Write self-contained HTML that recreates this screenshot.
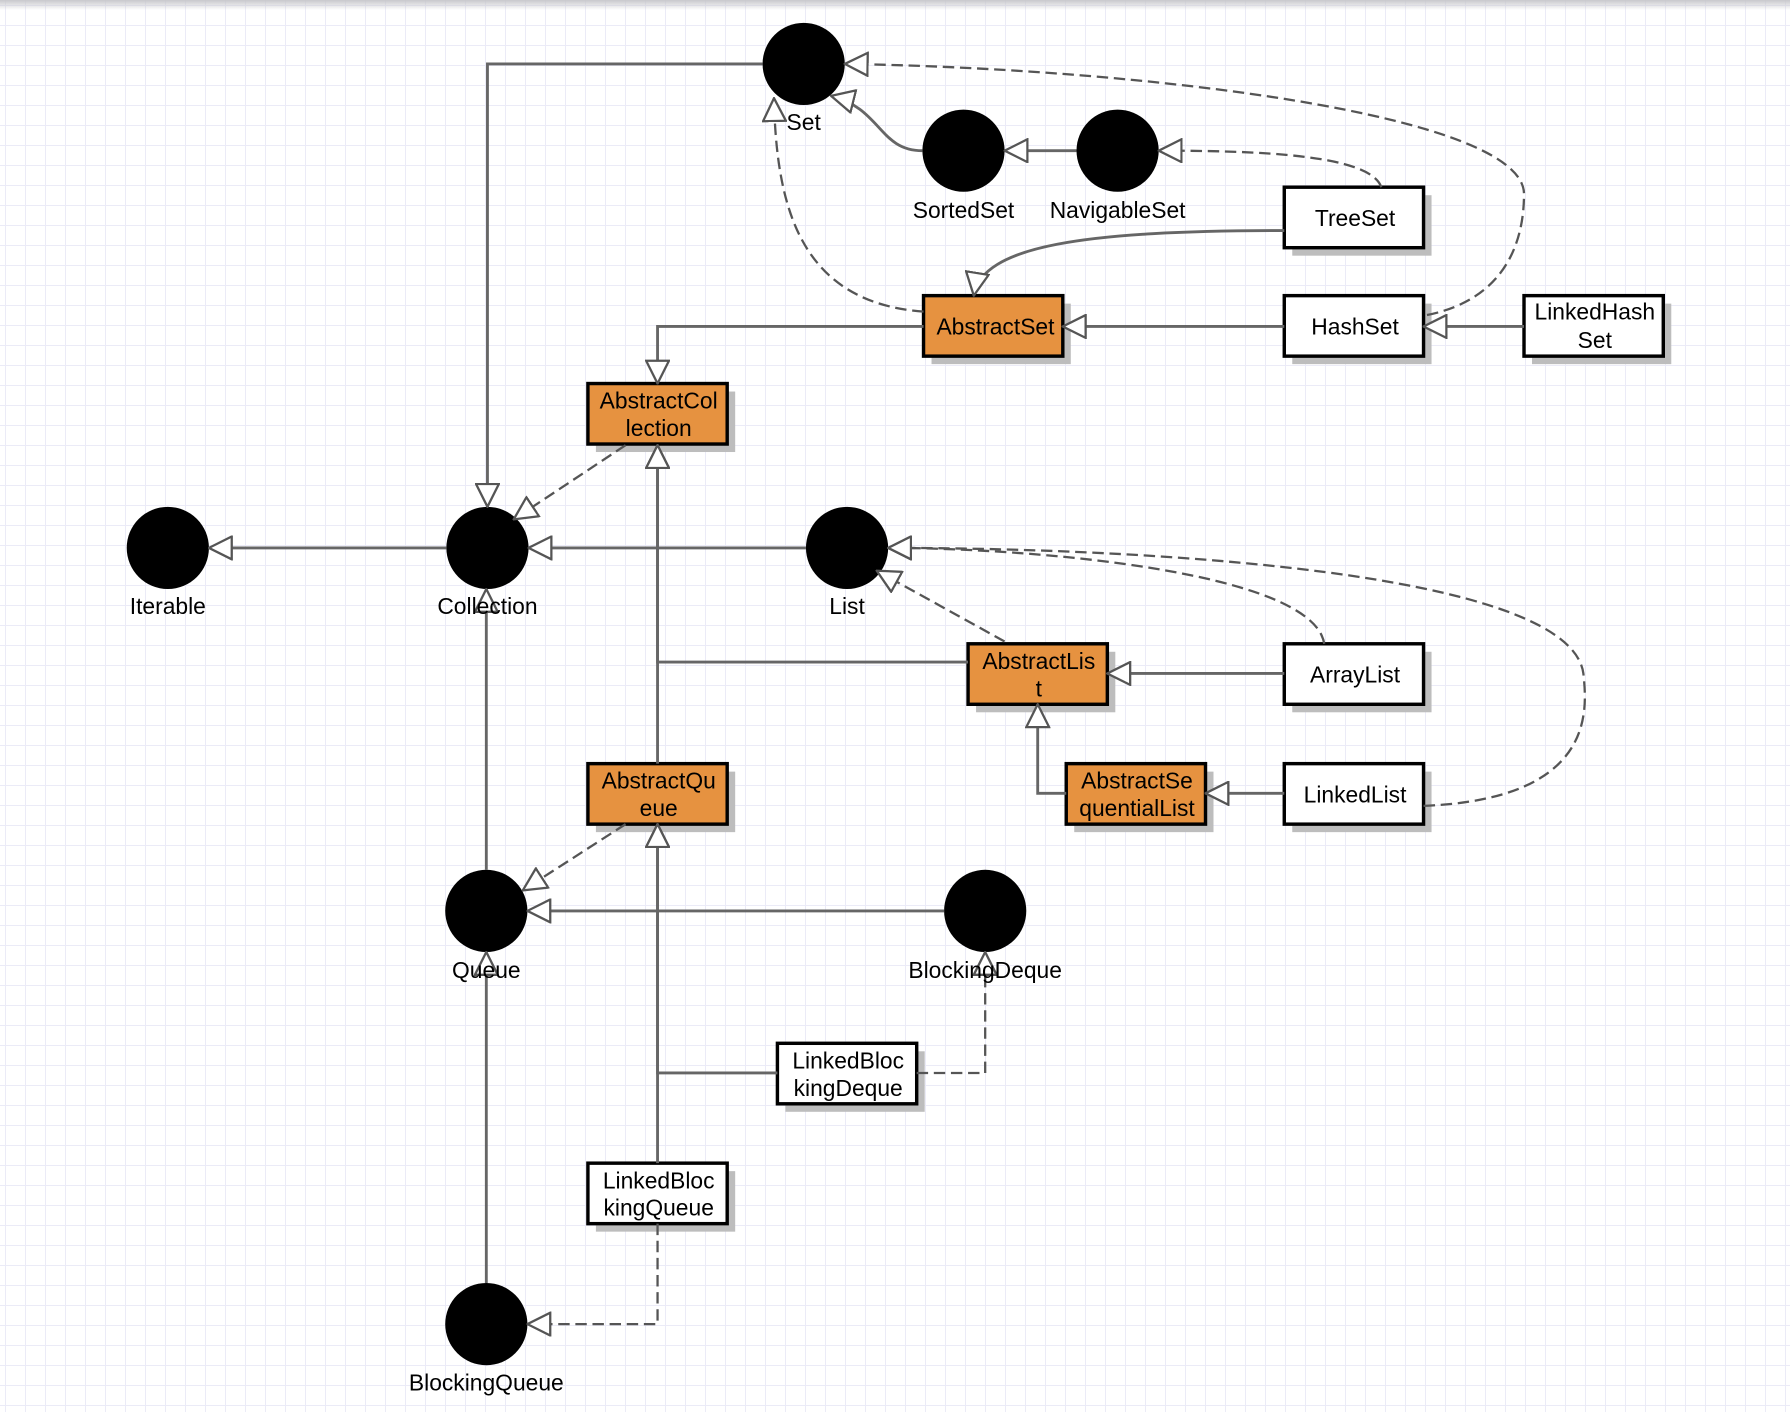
<!DOCTYPE html>
<html><head><meta charset="utf-8"><style>
html,body{margin:0;padding:0;}
body{width:1790px;height:1412px;overflow:hidden;position:relative;background-color:#fff;
background-image:linear-gradient(#ebebf7 1px,transparent 1px),linear-gradient(90deg,#ebebf7 1px,transparent 1px);
background-size:20px 20px;background-position:5px 5px;}
.top{position:absolute;left:0;top:0;width:1790px;height:10px;background:linear-gradient(#c8c8cc,rgba(255,255,255,0));}
svg{position:absolute;left:0;top:0;}
text{font-family:"Liberation Sans",sans-serif;font-size:20px;fill:#000;text-anchor:middle;}
</style></head><body>
<div class="top"></div>
<svg width="1790" height="1412" viewBox="0 0 1568 1237" preserveAspectRatio="none">
<defs>
<marker id="a" viewBox="0 0 22 22" refX="21" refY="11" markerWidth="22" markerHeight="22" markerUnits="userSpaceOnUse" orient="auto">
<path d="M1,1 L21,11 L1,21 Z" fill="#fff" stroke="#555" stroke-width="2"/>
</marker>
</defs>
<g fill="#bdbdbd">
<rect x="1132" y="171" width="122" height="53"/><rect x="816" y="266" width="122" height="53"/>
<rect x="1132" y="266" width="122" height="53"/><rect x="1342" y="266" width="122" height="53"/>
<rect x="522" y="343" width="122" height="53"/><rect x="855" y="571" width="122" height="53"/>
<rect x="1132" y="571" width="122" height="53"/><rect x="941" y="676" width="122" height="53"/>
<rect x="1132" y="676" width="122" height="53"/><rect x="522" y="676" width="122" height="53"/>
<rect x="688" y="921" width="122" height="53"/><rect x="522" y="1026" width="122" height="53"/>
</g>
<g stroke="#000" stroke-width="3">
<rect x="1125" y="164" width="122" height="53" fill="#fff"/>
<rect x="809" y="259" width="122" height="53" fill="#e69240"/>
<rect x="1125" y="259" width="122" height="53" fill="#fff"/>
<rect x="1335" y="259" width="122" height="53" fill="#fff"/>
<rect x="515" y="336" width="122" height="53" fill="#e69240"/>
<rect x="848" y="564" width="122" height="53" fill="#e69240"/>
<rect x="1125" y="564" width="122" height="53" fill="#fff"/>
<rect x="934" y="669" width="122" height="53" fill="#e69240"/>
<rect x="1125" y="669" width="122" height="53" fill="#fff"/>
<rect x="515" y="669" width="122" height="53" fill="#e69240"/>
<rect x="681" y="914" width="122" height="53" fill="#fff"/>
<rect x="515" y="1019" width="122" height="53" fill="#fff"/>
</g>
<g fill="#000">
<circle cx="704" cy="56" r="36"/><circle cx="844" cy="132" r="36"/><circle cx="979" cy="132" r="36"/>
<circle cx="147" cy="480" r="36"/><circle cx="427" cy="480" r="36"/><circle cx="742" cy="480" r="36"/>
<circle cx="426" cy="798" r="36"/><circle cx="863" cy="798" r="36"/><circle cx="426" cy="1160" r="36"/>
</g>
<g fill="none" stroke="#666" stroke-width="2.5" marker-end="url(#a)">
<path d="M668,56 H427 V444"/>
<path d="M808,132 C770,132 772,95 728,84"/>
<path d="M943,132 H880"/>
<path d="M1125,202 C950,202 860,215 853,259"/>
<path d="M1125,286 H931"/>
<path d="M1335,286 H1247"/>
<path d="M809,286 H576 V336"/>
<path d="M391,480 H183"/>
<path d="M706,480 H463"/>
<path d="M848,580 H576 V390"/>
<path d="M1125,590 H970"/>
<path d="M934,695 H909 V617"/>
<path d="M1125,695 H1056"/>
<path d="M576,669 V390"/>
<path d="M426,762 V516"/>
<path d="M827,798 H462"/>
<path d="M681,940 H576 V722"/>
<path d="M576,1019 V722"/>
<path d="M426,1124 V834"/>
</g>
<g fill="none" stroke="#555" stroke-width="2" stroke-dasharray="10,5" marker-end="url(#a)">
<path d="M1210,164 C1200,135 1100,132 1015,132"/>
<path d="M809,273 C700,265 680,180 678,86"/>
<path d="M1250,276 C1320,262 1335,210 1335,170 C1335,100 1000,60 740,56"/>
<path d="M548,390 L450,455"/>
<path d="M880,562 L768,500"/>
<path d="M1160,564 C1150,500 900,480 778,480"/>
<path d="M1247,706 C1400,700 1390,620 1387,590 C1375,500 1000,480 778,480"/>
<path d="M548,722 L458,780"/>
<path d="M803,940 H863 V834"/>
<path d="M576,1072 V1160 H462"/>
</g>
<text x="704" y="114">Set</text>
<text x="844" y="191">SortedSet</text>
<text x="979" y="191">NavigableSet</text>
<text x="147" y="538">Iterable</text>
<text x="427" y="538">Collection</text>
<text x="742" y="538">List</text>
<text x="426" y="857">Queue</text>
<text x="863" y="857">BlockingDeque</text>
<text x="426" y="1218">BlockingQueue</text>
<text x="1187" y="198">TreeSet</text>
<text x="872" y="293">AbstractSet</text>
<text x="1187" y="293">HashSet</text>
<text x="1397" y="280">LinkedHash</text><text x="1397" y="305">Set</text>
<text x="577" y="358">AbstractCol</text><text x="577" y="382">lection</text>
<text x="910" y="586">AbstractLis</text><text x="910" y="610">t</text>
<text x="1187" y="598">ArrayList</text>
<text x="996" y="691">AbstractSe</text><text x="996" y="715">quentialList</text>
<text x="1187" y="703">LinkedList</text>
<text x="577" y="691">AbstractQu</text><text x="577" y="715">eue</text>
<text x="743" y="936">LinkedBloc</text><text x="743" y="960">kingDeque</text>
<text x="577" y="1041">LinkedBloc</text><text x="577" y="1065">kingQueue</text>
</svg>
</body></html>
